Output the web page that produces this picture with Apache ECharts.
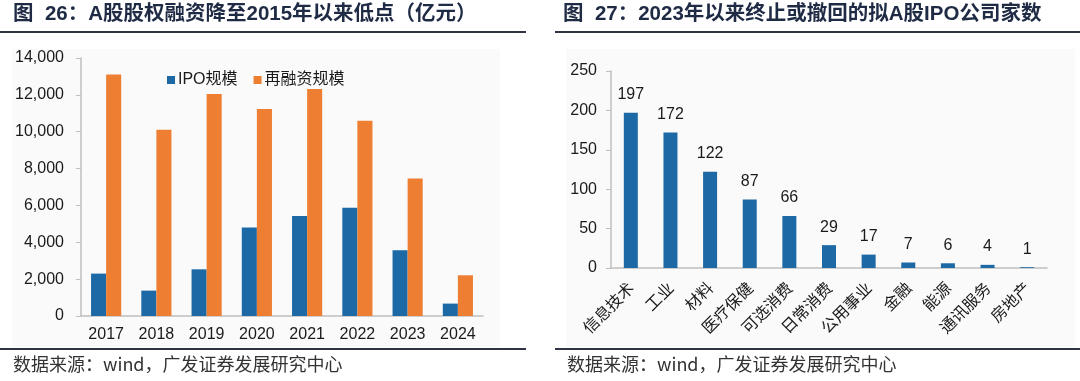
<!DOCTYPE html>
<html>
<head>
<meta charset="utf-8">
<script src="https://cdn.jsdelivr.net/npm/echarts@6/dist/echarts.min.js"></script>
<style>
html,body{margin:0;padding:0;background:#fff;}
#c{width:1080px;height:381px;}
</style>
</head>
<body>
<div id="c"></div>
<script>
// ---- data ----
var years = ['2017','2018','2019','2020','2021','2022','2023','2024'];
var ipoScale = [2301, 1378, 2532, 4800, 5427, 5869, 3565, 673];
var refiScale = [13100, 10110, 12050, 11230, 12320, 10600, 7460, 2210];
var legendNames = ['IPO规模', '再融资规模'];
var leftTicks = {min: 0, max: 14000, interval: 2000};

var industries = ['信息技术','工业','材料','医疗保健','可选消费','日常消费','公用事业','金融','能源','通讯服务','房地产'];
var withdrawCounts = [197, 172, 122, 87, 66, 29, 17, 7, 6, 4, 1];
var rightTicks = {min: 0, max: 250, interval: 50};

var title1 = '图  26：A股股权融资降至2015年以来低点（亿元）';
var title2 = '图  27：2023年以来终止或撤回的拟A股IPO公司家数';
var sourceText = '数据来源：wind，广发证券发展研究中心';

// ---- styles ----
var FONT = '"Liberation Sans", Arial, "Noto Sans CJK SC", sans-serif';
var BLUE = '#1c69a5';
var ORANGE = '#ee7f32';
var AXIS = '#bfbfbf';
var TXT = '#1a1a1a';
var TITLE = '#1f2a44';
var RULE = '#2e3444';

var chart = echarts.init(document.getElementById('c'), null, {renderer: 'canvas'});

function commas(v){ return String(v).replace(/\B(?=(\d{3})+(?!\d))/g, ','); }

var option = {
  animation: false,
  backgroundColor: '#ffffff',
  textStyle: {fontFamily: FONT},
  graphic: [
    {type: 'rect', silent: true, z: -10, shape: {x: 12, y: 49, width: 488, height: 298}, style: {fill: '#fafafa'}},
    {type: 'rect', silent: true, z: -10, shape: {x: 566, y: 49, width: 509, height: 298}, style: {fill: '#fafafa'}},
    {type: 'text', left: 13, top: 4, style: {text: title1, font: 'bold 20.5px ' + FONT, fill: TITLE}},
    {type: 'text', left: 563, top: 4, style: {text: title2, font: 'bold 20.5px ' + FONT, fill: TITLE}},
    {type: 'line', shape: {x1: 0, y1: 32, x2: 526, y2: 32}, style: {stroke: RULE, lineWidth: 2}},
    {type: 'line', shape: {x1: 555, y1: 32, x2: 1080, y2: 32}, style: {stroke: RULE, lineWidth: 2}},
    {type: 'line', shape: {x1: 0, y1: 349, x2: 526, y2: 349}, style: {stroke: RULE, lineWidth: 2}},
    {type: 'line', shape: {x1: 555, y1: 349, x2: 1080, y2: 349}, style: {stroke: RULE, lineWidth: 2}},
    {type: 'text', left: 13, top: 355, style: {text: sourceText, font: '18px "Noto Sans CJK SC", sans-serif', fill: '#333'}},
    {type: 'text', left: 567, top: 355, style: {text: sourceText, font: '18px "Noto Sans CJK SC", sans-serif', fill: '#333'}}
  ],
  legend: {
    left: 162, top: 67,
    itemWidth: 8, itemHeight: 8, itemGap: 16,
    icon: 'rect',
    data: legendNames,
    textStyle: {fontSize: 16, color: TXT, fontFamily: FONT, padding: [0,0,0,-2]}
  },
  grid: [
    {left: 81, right: 597, top: 58, bottom: 65},
    {left: 611, right: 33, top: 71, bottom: 113}
  ],
  xAxis: [
    {type: 'category', gridIndex: 0, data: years,
     axisLine: {lineStyle: {color: AXIS, width: 1.5}},
     axisTick: {show: false},
     axisLabel: {fontSize: 16, color: TXT, margin: 11, fontFamily: FONT}},
    {type: 'category', gridIndex: 1, data: industries,
     axisLine: {lineStyle: {color: AXIS, width: 1.5}},
     axisTick: {show: false},
     axisLabel: {fontSize: 16, color: TXT, rotate: 45, margin: 17, interval: 0, fontFamily: '"Noto Sans CJK SC", sans-serif'}}
  ],
  yAxis: [
    {type: 'value', gridIndex: 0, min: leftTicks.min, max: leftTicks.max, interval: leftTicks.interval,
     splitLine: {show: false},
     axisLine: {show: true, lineStyle: {color: AXIS, width: 1.5}},
     axisTick: {show: true, length: 5, lineStyle: {color: AXIS}},
     axisLabel: {fontSize: 16, color: TXT, margin: 17, formatter: commas, fontFamily: FONT}},
    {type: 'value', gridIndex: 1, min: rightTicks.min, max: rightTicks.max, interval: rightTicks.interval,
     splitLine: {show: false},
     axisLine: {show: true, lineStyle: {color: AXIS, width: 1.5}},
     axisTick: {show: true, length: 5, lineStyle: {color: AXIS}},
     axisLabel: {fontSize: 16, color: TXT, margin: 14, fontFamily: FONT}}
  ],
  series: [
    {name: legendNames[0], type: 'bar', xAxisIndex: 0, yAxisIndex: 0, data: ipoScale,
     itemStyle: {color: BLUE}, barGap: '0%', barCategoryGap: '40%'},
    {name: legendNames[1], type: 'bar', xAxisIndex: 0, yAxisIndex: 0, data: refiScale,
     itemStyle: {color: ORANGE}, barGap: '0%', barCategoryGap: '40%'},
    {name: 'count', type: 'bar', xAxisIndex: 1, yAxisIndex: 1, data: withdrawCounts,
     itemStyle: {color: BLUE}, barWidth: 14,
     label: {show: true, position: 'top', distance: 10, fontSize: 16, color: TXT, fontFamily: FONT}}
  ]
};
chart.setOption(option);
</script>
</body>
</html>
